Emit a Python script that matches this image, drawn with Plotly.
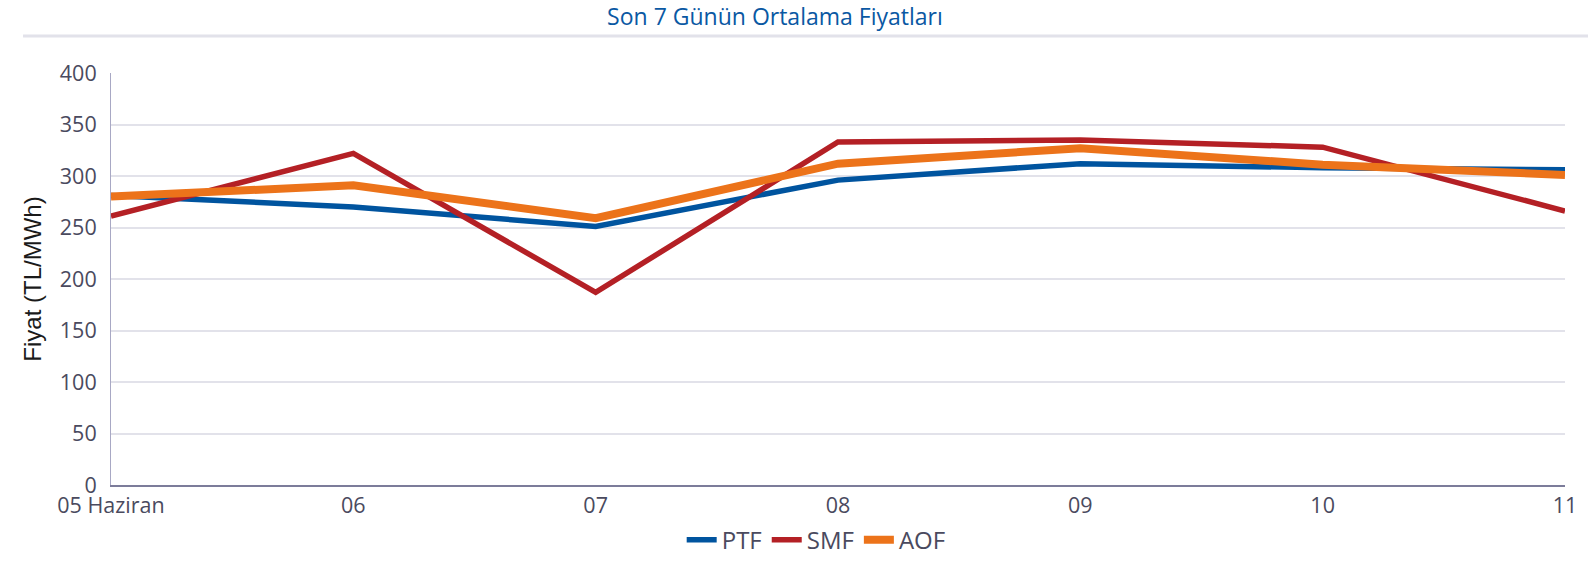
import plotly.graph_objects as go

categories = ["05 Haziran", "06", "07", "08", "09", "10", "11"]
ptf = [281, 270, 251, 296, 312, 308, 306]
smf = [261, 322, 187, 333, 335, 328, 266]
aof = [280, 291, 259, 312, 327, 311, 301]
y_ticks = [0, 50, 100, 150, 200, 250, 300, 350, 400]

x = list(range(len(categories)))

fig = go.Figure()
fig.add_trace(go.Scatter(x=x, y=ptf, name="PTF", mode="lines",
                         line=dict(color="#00549f", width=5.5)))
fig.add_trace(go.Scatter(x=x, y=smf, name="SMF", mode="lines",
                         line=dict(color="#b42025", width=5.5)))
fig.add_trace(go.Scatter(x=x, y=aof, name="AOF", mode="lines",
                         line=dict(color="#ec731a", width=8)))

tick_font = dict(family="Open Sans, sans-serif", size=21.5, color="#4a4a5e")

W, H = 1588, 562
fig.update_layout(
    width=W, height=H,
    margin=dict(l=111, r=23, t=73, b=77, autoexpand=False),
    paper_bgcolor="white", plot_bgcolor="white",
    title=dict(text="Son 7 Günün Ortalama Fiyatları", x=0.488, xanchor="center",
               yref="container", y=0.9706, yanchor="middle",
               font=dict(family="Open Sans, sans-serif", size=23, color="#0a58a3")),
    xaxis=dict(range=[0, 6], tickvals=x, ticktext=categories, showgrid=False,
               zeroline=False, showline=True, linecolor="#7c7c9a", linewidth=2,
               ticks="", tickfont=tick_font, fixedrange=True, automargin=False),
    yaxis=dict(range=[0, 400], tickvals=y_ticks, showgrid=True, gridcolor="#e2e2ea",
               gridwidth=1.5, zeroline=False, showline=True, linecolor="#a8a8c4",
               linewidth=1, ticks="outside", ticklen=9, tickcolor="rgba(0,0,0,0)",
               tickfont=tick_font, automargin=False,
               title=dict(text="Fiyat (TL/MWh)", standoff=11,
                          font=dict(family="Liberation Sans, Arial, sans-serif",
                                    size=24, color="#1a1a1a"))),
    legend=dict(orientation="h", x=0.485, xanchor="center", yref="container",
                y=0.039, yanchor="middle",
                font=dict(family="Open Sans, sans-serif", size=24, color="#4a4a5e"),
                itemwidth=30, tracegroupgap=0),
    showlegend=True,
)

fig.add_shape(type="line", xref="paper", yref="paper", x0=-0.0605, x1=1.016,
              y0=1.0898, y1=1.0898, line=dict(color="#e2e2ea", width=3))

fig.write_html("out.html", config={"displayModeBar": False},
               post_script="document.body.style.margin='0';document.body.style.overflow='hidden';")
